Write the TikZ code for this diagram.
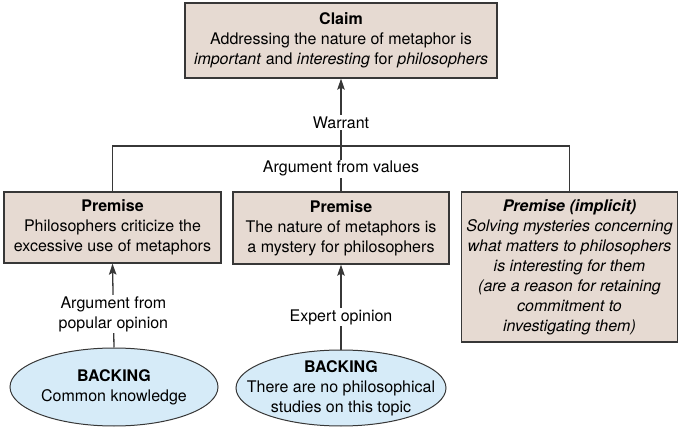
\documentclass[tikz,border=0pt]{standalone}
\usepackage{fontspec}
\setmainfont{TeX Gyre Heros}
\usepackage{tikz}
\usetikzlibrary{arrows.meta,shapes.geometric}
\definecolor{boxfill}{RGB}{230, 218, 210}
\definecolor{backfill}{RGB}{214, 235, 248}
\definecolor{edge}{RGB}{55, 55, 55}

\begin{document}
\begin{tikzpicture}[x=1pt, y=-1pt, >={Stealth[length=11pt, width=7.5pt, inset=2pt]},
    every node/.style={font=\fontsize{16}{20}\selectfont, align=center},
    premisebox/.style={draw=edge, line width=1.3pt, fill=boxfill, minimum width=217pt, inner sep=0pt},
    backing/.style={ellipse, draw=edge, line width=1pt, fill=backfill, inner sep=0pt},
    link/.style={line width=1.3pt, draw=edge},
    tag/.style={fill=white, inner sep=1.5pt}]
  \useasboundingbox (0,0) rectangle (681,428);

  % Claim
  \node[premisebox, minimum width=312pt, minimum height=75pt] (claim) at (341,40.5)
    {\textbf{Claim}\\Addressing the nature of metaphor is\\\textit{important} and \textit{interesting} for \textit{philosophers}};

  % Premises
  \node[premisebox, minimum height=71pt] (premA) at (112.5,227.5)
    {\textbf{Premise}\\Philosophers criticize the\\excessive use of metaphors};
  \node[premisebox, minimum width=216pt, minimum height=72pt] (premB) at (341,228)
    {\textbf{Premise}\\The nature of metaphors is\\a mystery for philosophers};
  \node[premisebox, minimum width=216pt, minimum height=150pt] (premC) at (569.5,267)
    {\textbf{\textit{Premise (implicit)}}\\\textit{Solving mysteries concerning}\\\textit{what matters to philosophers}\\\textit{is interesting for them}\\\textit{(are a reason for retaining}\\\textit{commitment to}\\\textit{investigating them)}};

  % Backing
  \node[backing, minimum width=208pt, minimum height=78pt] (backA) at (114,387) {};
  \node (backAtext) at (backA) {\textbf{BACKING}\\Common knowledge};
  \node[backing, minimum width=210pt, minimum height=76pt] (backB) at (341,388) {};
  \node (backBtext) at (backB) {\textbf{BACKING}\\There are no philosophical\\studies on this topic};

  % Warrant
  \coordinate (j) at (341,146);
  \draw[link] (premA.north) -- (premA.north |- j) -- (premC.north |- j) -- (premC.north);
  \draw[link, ->] (j) -- (claim.south) node[tag, pos=0.35] {Warrant};
  \draw[link] (premB.north) -- (j) node[tag, midway] {Argument from values};

  % Backing arrows
  \draw[link, ->] (backA.north) -- (premA.south) node[tag, pos=0.4] {Argument from\\popular opinion};
  \draw[link, ->] (backB.north) -- (premB.south) node[tag, pos=0.38] {Expert opinion};
\end{tikzpicture}
\end{document}
